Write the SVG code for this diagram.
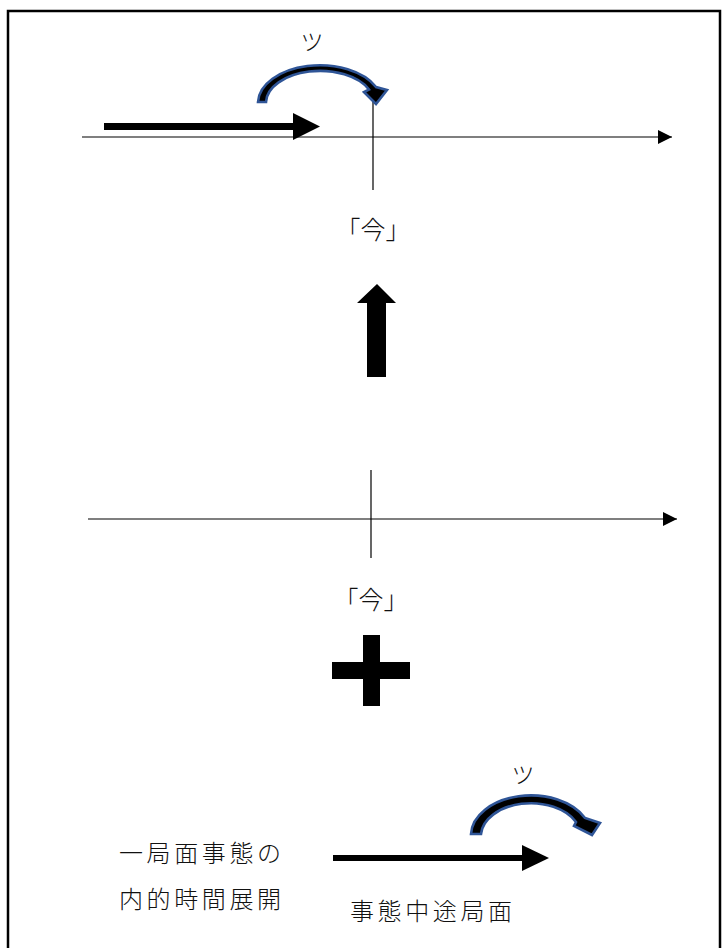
<svg xmlns="http://www.w3.org/2000/svg" width="722" height="948" viewBox="0 0 722 948">
<defs>
<style>
.t{font-family:"Noto Sans CJK JP","Noto Sans CJK SC",sans-serif;font-weight:300;fill:#111;}
.thin{stroke:#000;stroke-width:1.2;fill:none;}
.curve{fill:#000;stroke:#2F5597;stroke-width:2.6;stroke-linejoin:miter;}
.blk{fill:#000;}
</style>
<marker id="ah" viewBox="0 0 10 10" refX="10" refY="5" markerWidth="16" markerHeight="14" markerUnits="userSpaceOnUse" orient="auto"><path d="M0,0 L10,5 L0,10 Z" fill="#000"/></marker>
</defs>
<rect x="8" y="11" width="712" height="960" fill="#fff" stroke="#000" stroke-width="2.5"/>
<g id="connectors">
<line class="thin" x1="82" y1="137" x2="672" y2="137" marker-end="url(#ah)"/>
<line class="thin" x1="373" y1="100" x2="373" y2="190"/>
<line class="thin" x1="88" y1="519" x2="677" y2="519" marker-end="url(#ah)"/>
<line class="thin" x1="371" y1="470" x2="371" y2="558"/>
</g>
<g id="top-thick-arrow">
<rect class="blk" x="104" y="123" width="192" height="7"/>
<path class="blk" d="M293,113 L320,126.5 L293,140 Z"/>
</g>
<g id="top-curve">
<path class="curve" d="M258,102 A62,38 0 0 1 376,87 L387,90 L376,104 L364,92 L369,89.5 A54,32 0 0 0 266,102 Z"/>
<text class="t" x="312" y="50" font-size="23" text-anchor="middle">ツ</text>
</g>
<g id="label-now-1">
<text class="t" x="373" y="239" font-size="25" text-anchor="middle">「今」</text>
</g>
<g id="up-arrow">
<path class="blk" d="M367,377 L367,303 L357,303 L377,284 L396,303 L386,303 L386,377 Z"/>
</g>
<g id="label-now-2">
<text class="t" x="371" y="609" font-size="25" text-anchor="middle">「今」</text>
</g>
<g id="plus">
<rect class="blk" x="332" y="662" width="78" height="17"/>
<rect class="blk" x="363" y="635" width="17" height="71"/>
</g>
<g id="bottom-curve">
<path class="curve" d="M471,834 A60,40 0 0 1 585,818 L600,823 L592,835 L574,826 L576,822 A50,33 0 0 0 481,834 Z"/>
<text class="t" x="523" y="783" font-size="23" text-anchor="middle">ツ</text>
</g>
<g id="bottom-arrow">
<rect class="blk" x="333" y="855" width="192" height="6"/>
<path class="blk" d="M522,845 L549,858 L522,871 Z"/>
</g>
<g id="text-left">
<text class="t" x="119" y="862" font-size="24" letter-spacing="3.6">一局面事態の</text>
<text class="t" x="119" y="908" font-size="24" letter-spacing="3.6">内的時間展開</text>
</g>
<g id="text-bottom">
<text class="t" x="350" y="920" font-size="24" letter-spacing="3.6">事態中途局面</text>
</g>
</svg>
